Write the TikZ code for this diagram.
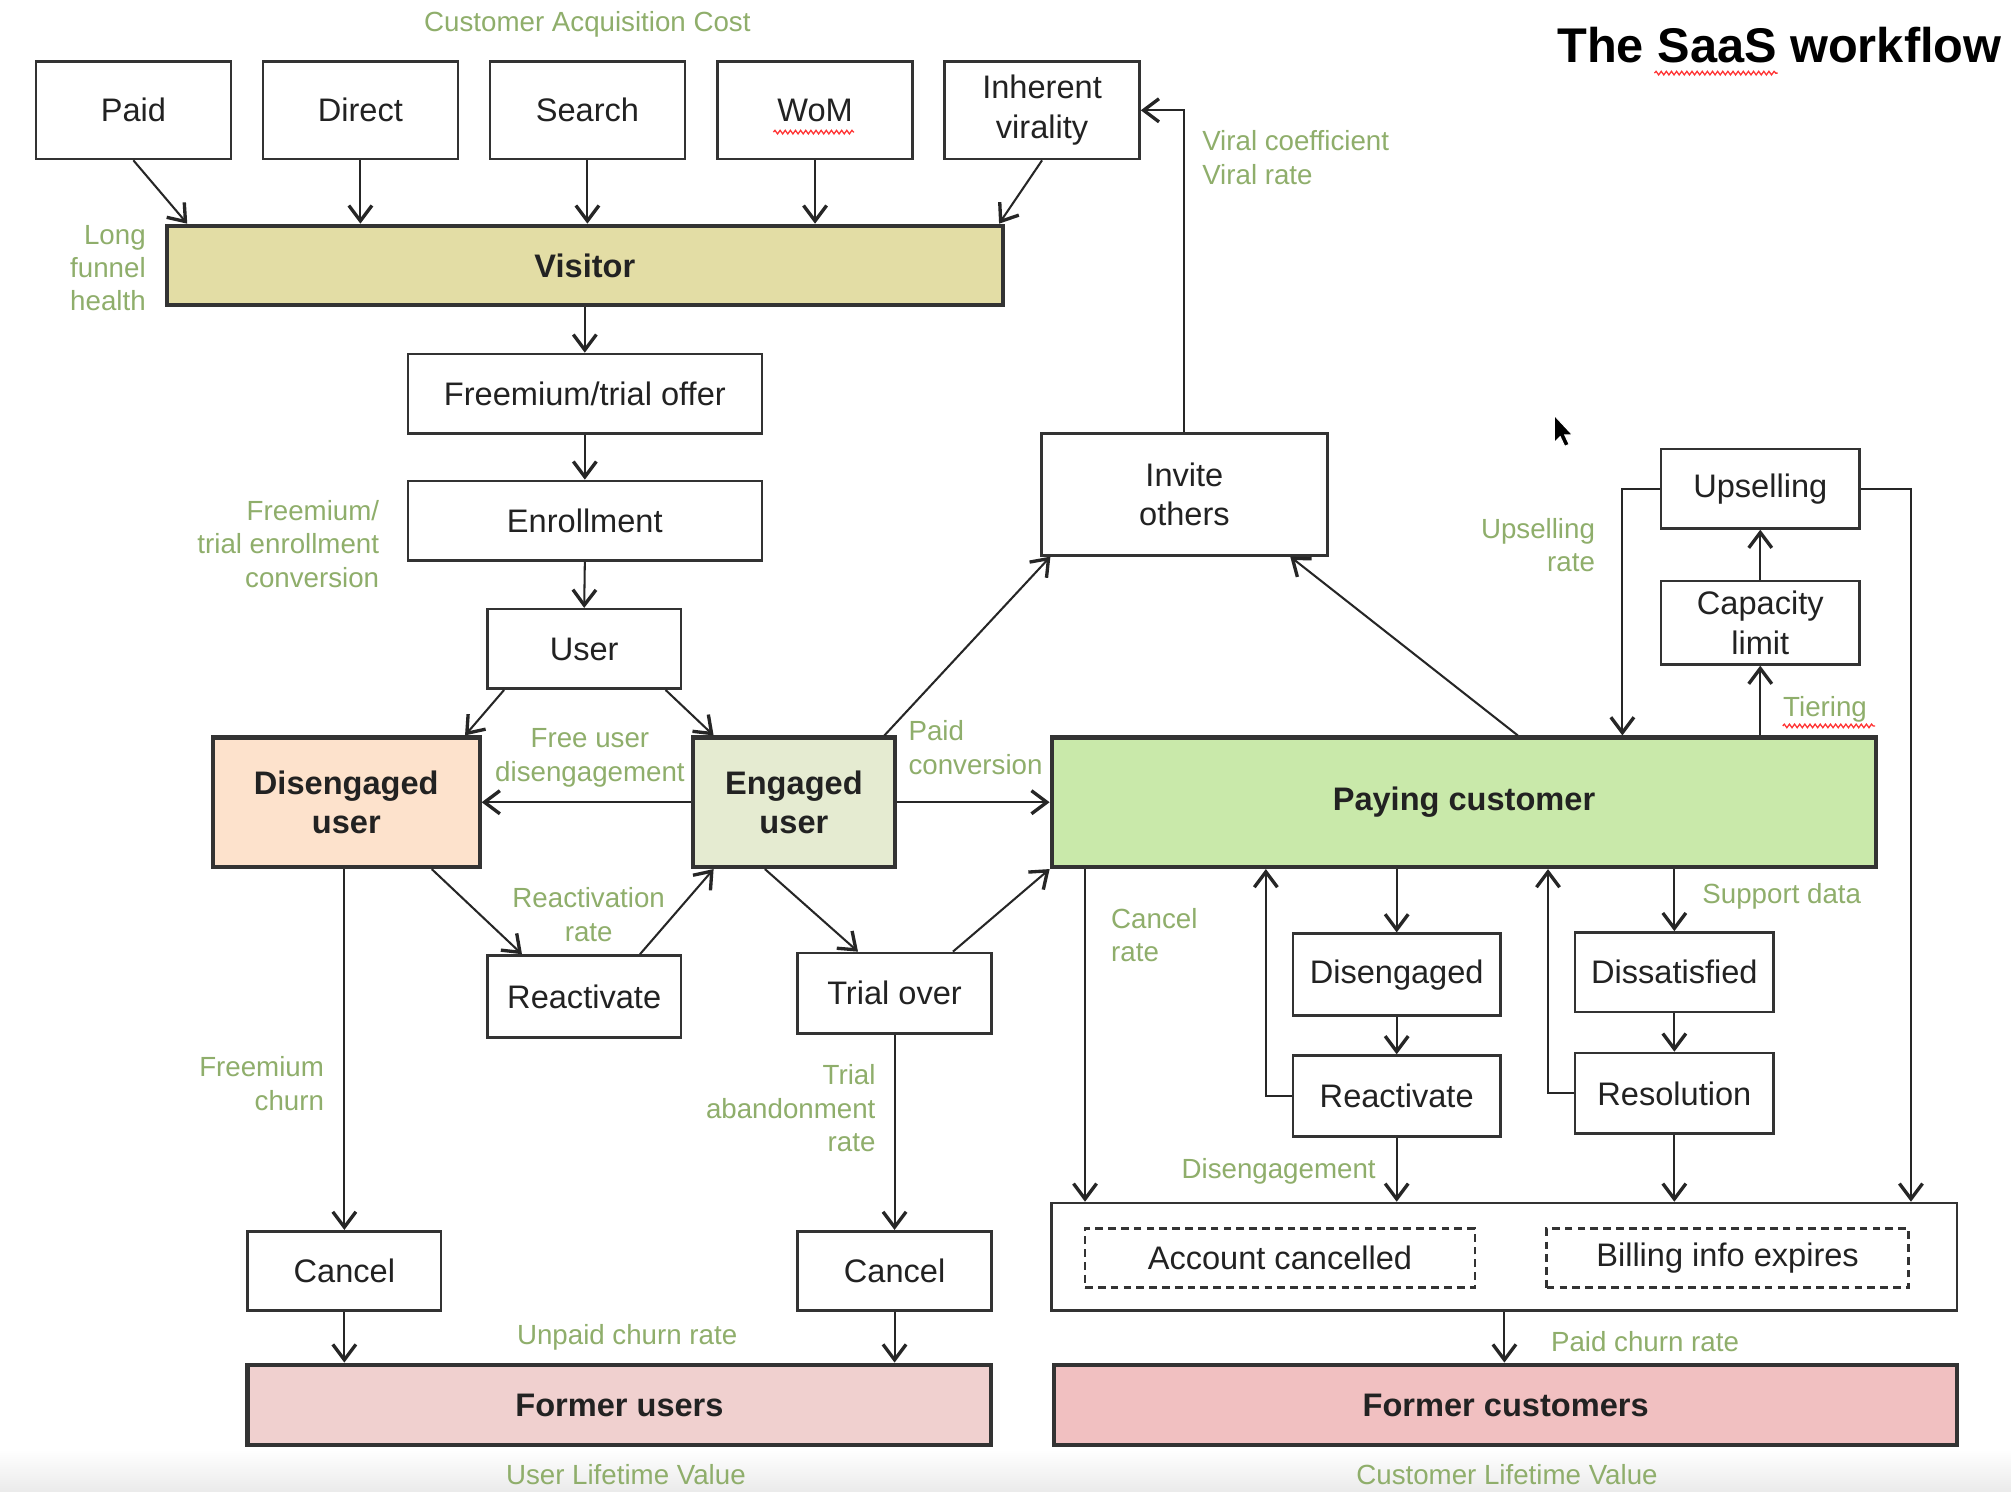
\documentclass[tikz,border=0pt]{standalone}
\usepackage{fontspec}
\setmainfont{Liberation Sans}
\usetikzlibrary{arrows.meta,calc,decorations.pathmorphing}
\definecolor{lblc}{HTML}{8FAE6B}
\definecolor{boxline}{HTML}{333333}
\definecolor{txtc}{HTML}{222222}
\definecolor{visc}{HTML}{E3DDA5}
\definecolor{disc}{HTML}{FDE2CC}
\definecolor{engc}{HTML}{E5EBD1}
\definecolor{payc}{HTML}{C9E9AA}
\definecolor{fuc}{HTML}{F0D0CF}
\definecolor{fcc}{HTML}{F1C0C1}
\newcommand\bxfont{\fontsize{12.7}{15.5}\selectfont}
\newcommand\lbfont{\fontsize{10.8}{13}\selectfont}
\begin{document}
\begin{tikzpicture}[x=0.5pt,y=-0.5pt,
  box/.style={draw=boxline,line width=1pt,fill=white,align=center,inner sep=1pt,font=\bxfont,text=txtc},
  tbox/.style={box,line width=1.6pt,font=\bxfont\bfseries},
  dbox/.style={box,dash pattern=on 3pt off 2pt},
  arr/.style={draw=black!85,line width=0.8pt,-{Straight Barb[length=6pt,width=9pt,line width=1.3pt]}},
  lbl/.style={text=lblc,font=\lbfont,inner sep=0pt},
  squig/.style={draw=red!80,line width=0.5pt,decorate,decoration={snake,amplitude=0.7pt,segment length=2pt}}]
\fill[white] (0,0) rectangle (1568,1163);
\useasboundingbox (0,0) rectangle (1568,1163);
\shade[top color=white,bottom color=black!8] (0,1130) rectangle (1568,1163);

% title
\node[anchor=east,font=\fontsize{19}{22}\selectfont\bfseries,inner sep=0pt] (title) at (1561,35) {The SaaS workflow};

% top sources
\node[box,minimum width=76pt,minimum height=38pt] (paid) at (104,86) {Paid};
\node[box,minimum width=76pt,minimum height=38pt] (direct) at (281,86) {Direct};
\node[box,minimum width=76pt,minimum height=38pt] (search) at (458,86) {Search};
\node[box,minimum width=76pt,minimum height=38pt] (wom) at (635.5,86) {WoM};
\node[box,minimum width=76pt,minimum height=38pt] (inherent) at (812.5,86) {Inherent\\virality};

\node[tbox,fill=visc,minimum width=326pt,minimum height=31pt] (visitor) at (456,207) {Visitor};
\node[box,minimum width=138pt,minimum height=31pt] (offer) at (456,307) {Freemium/trial offer};
\node[box,minimum width=138pt,minimum height=31pt] (enroll) at (456,406) {Enrollment};
\node[box,minimum width=75.5pt,minimum height=31pt] (user) at (455.5,506) {User};

\node[tbox,fill=disc,minimum width=104pt,minimum height=50.5pt] (disu) at (270,625.5) {Disengaged\\user};
\node[tbox,fill=engc,minimum width=79pt,minimum height=50.5pt] (engu) at (619,625.5) {Engaged\\user};
\node[tbox,fill=payc,minimum width=321.5pt,minimum height=50.5pt] (pay) at (1141.5,625.5) {Paying customer};

\node[box,minimum width=111.5pt,minimum height=47.5pt] (invite) at (923.5,385.5) {Invite\\others};
\node[box,minimum width=77.5pt,minimum height=31pt] (ups) at (1372.5,381) {Upselling};
\node[box,minimum width=77.5pt,minimum height=32.5pt] (cap) at (1372.5,485.5) {Capacity\\limit};

\node[box,minimum width=75.5pt,minimum height=32pt] (reactL) at (455.5,777) {Reactivate};
\node[box,minimum width=75.5pt,minimum height=31.5pt] (trial) at (697.5,774.5) {Trial over};

\node[box,minimum width=81pt,minimum height=32pt] (disR) at (1089,760) {Disengaged};
\node[box,minimum width=81pt,minimum height=31.5pt] (reactR) at (1089,854.5) {Reactivate};
\node[box,minimum width=77.5pt,minimum height=31pt] (dissat) at (1305.5,758) {Dissatisfied};
\node[box,minimum width=77.5pt,minimum height=31.5pt] (resol) at (1305.5,852.5) {Resolution};

\node[box,minimum width=75.5pt,minimum height=31pt] (cancelL) at (268.5,991) {Cancel};
\node[box,minimum width=75.5pt,minimum height=31pt] (cancelR) at (697.5,991) {Cancel};

\node[box,minimum width=353pt,minimum height=42pt] (outer) at (1173,980) {};
\node[dbox,minimum width=152pt,minimum height=23pt] (acct) at (998,981) {Account cancelled};
\node[dbox,minimum width=141pt,minimum height=23pt] (bill) at (1347,981) {Billing info expires};

\node[tbox,fill=fuc,minimum width=290pt,minimum height=31.5pt] (formerU) at (483,1095.5) {Former users};
\node[tbox,fill=fcc,minimum width=352pt,minimum height=31.5pt] (formerC) at (1174,1095.5) {Former customers};

% helper x positions
\coordinate (xP) at (146,0);
\coordinate (xI) at (779,0);
\coordinate (xCan) at (846,0);
\coordinate (xA) at (987,0);
\coordinate (xB) at (1207,0);
\coordinate (xC) at (1265,0);
\coordinate (xD) at (1490,0);

% connectors
\draw[arr] (paid.south) -- (visitor.north -| xP);
\draw[arr] (direct.south) -- (direct.south |- visitor.north);
\draw[arr] (search.south) -- (search.south |- visitor.north);
\draw[arr] (wom.south) -- (wom.south |- visitor.north);
\draw[arr] (inherent.south) -- (visitor.north -| xI);
\draw[arr] (visitor.south) -- (offer.north);
\draw[arr] (offer.south) -- (enroll.north);
\draw[arr] (enroll.south) -- (user.north);
\draw[arr] ($(user.south west)+(14,0)$) -- ($(disu.north east)+(-13,0)$);
\draw[arr] ($(user.south east)+(-13,0)$) -- ($(engu.north west)+(18,0)$);
\draw[arr] (engu.west) -- (disu.east);
\draw[arr] (engu.east) -- (pay.west);
\draw[arr] ($(engu.north east)+(-10,0)$) -- ($(invite.south west)+(8,0)$);
\draw[arr] ($(pay.north west)+(365,0)$) -- ($(invite.south east)+(-30,0)$);
\draw[arr] (invite.north) |- (inherent.east);
\draw[arr] ($(disu.south east)+(-39,0)$) -- ($(reactL.north west)+(28,0)$);
\draw[arr] ($(reactL.north east)+(-33,0)$) -- ($(engu.south west)+(18,0)$);
\draw[arr] ($(engu.south west)+(58,0)$) -- ($(trial.north west)+(48,0)$);
\draw[arr] ($(trial.north east)+(-31,0)$) -- (pay.south west);
\draw[arr] (cancelL.north |- disu.south) -- (cancelL.north);
\draw[arr] (trial.south) -- (cancelR.north);
\draw[arr] (cancelL.south) -- (cancelL.south |- formerU.north);
\draw[arr] (cancelR.south) -- (cancelR.south |- formerU.north);
\draw[arr] (pay.south -| xCan) -- (outer.north -| xCan);
\draw[arr] (disR.north |- pay.south) -- (disR.north);
\draw[arr] (disR.south) -- (reactR.north);
\draw[arr] (reactR.west) -| (xA |- pay.south);
\draw[arr] (reactR.south) -- (reactR.south |- outer.north);
\draw[arr] (dissat.north |- pay.south) -- (dissat.north);
\draw[arr] (dissat.south) -- (resol.north);
\draw[arr] (resol.west) -| (xB |- pay.south);
\draw[arr] (resol.south) -- (resol.south |- outer.north);
\draw[arr] (ups.west) -| (xC |- pay.north);
\draw[arr] (cap.south |- pay.north) -- (cap.south);
\draw[arr] (cap.north) -- (ups.south);
\draw[arr] (ups.east) -| (xD |- outer.north);
\draw[arr] (outer.south) -- (outer.south |- formerC.north);

% labels
\node[lbl] (l1) at (458,19) {Customer Acquisition Cost};
\node[lbl,anchor=east,align=right] (l2) at (114,209) {Long\\funnel\\health};
\node[lbl,anchor=west,align=left] (l3) at (937,123) {Viral coefficient\\Viral rate};
\node[lbl,anchor=east,align=right] (l4) at (296,424) {Freemium/\\trial enrollment\\conversion};
\node[lbl,align=center] (l5) at (460,591) {Free user\\disengagement};
\node[lbl,anchor=west,align=left] (l6) at (708,583) {Paid\\conversion};
\node[lbl,align=center] (l7) at (459,713) {Reactivation\\rate};
\node[lbl,anchor=east,align=right] (l8) at (253,845) {Freemium\\churn};
\node[lbl,anchor=east,align=right] (l9) at (683,864) {Trial\\abandonment\\rate};
\node[lbl] (l10) at (489,1043) {Unpaid churn rate};
\node[lbl] (l11) at (488,1150) {User Lifetime Value};
\node[lbl,anchor=west,align=left] (l12) at (866,729) {Cancel\\rate};
\node[lbl,anchor=east] (l13) at (1073,913) {Disengagement};
\node[lbl,anchor=west] (l14) at (1327,699) {Support data};
\node[lbl,anchor=east,align=right] (l15) at (1244,425) {Upselling\\rate};
\node[lbl,anchor=west] (l16) at (1390,553) {Tiering};
\node[lbl,anchor=west] (l17) at (1209,1046) {Paid churn rate};
\node[lbl] (l18) at (1175,1150) {Customer Lifetime Value};

% spell-check squiggles
\draw[squig] (1290,57) -- (1386,57);
\draw[squig] (603,103) -- (666,103);
\draw[squig] (1390,566) -- (1462,566);

% mouse cursor
\filldraw[fill=black,draw=white,line width=0.4pt] (1212,324) -- (1212,345) -- (1216.5,340.5) -- (1220,348) -- (1223.5,346.5) -- (1220,339) -- (1226,339) -- cycle;
\end{tikzpicture}
\end{document}
